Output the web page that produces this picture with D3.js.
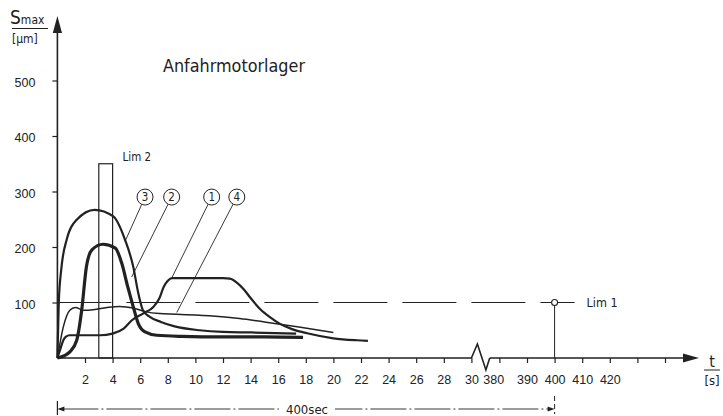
<!DOCTYPE html>
<html>
<head>
<meta charset="utf-8">
<script src="https://cdn.jsdelivr.net/npm/d3@7"></script>
<style>
  html, body { margin: 0; padding: 0; background: #fff; }
  svg { display: block; font-family: "DejaVu Sans Condensed", "DejaVu Sans", sans-serif; font-stretch: condensed; }
  .axis text { font-size: 12.5px; fill: #222; }
</style>
</head>
<body>
<div id="chart"></div>
<script>
// curves (t in s, Smax in µm)
const curve1 = [[0,0],[0.2,15],[0.43,32],[0.6,38],[0.9,41],[2,41],[3.1,41],[4,44],[4.8,53],[5.4,68],[6.2,80],[6.95,92],[7.4,108],[7.7,128],[8.0,139],[8.3,144],[10,144],[12,144],[12.5,143],[13,136],[13.5,124],[14,108],[14.7,88],[15.5,72],[16.1,62],[17,52],[18.1,44.5],[20,35.5],[21.7,32],[22.5,31]];
const curve2 = [[0,0],[0.5,4],[0.9,11],[1.4,32],[1.76,86],[2.1,164],[2.5,195],[3.3,205],[4.2,198],[4.66,171],[5.1,128],[5.5,92],[5.86,62],[6.35,47],[7.2,41],[9,39],[12,38],[15,38],[17.8,37]];
const curve3 = [[0,0],[0.1,100],[0.3,164],[0.67,213],[1.4,249],[2.7,267],[4.05,255],[4.9,213],[5.5,164],[5.86,117],[6.2,86],[6.7,74],[7.5,65],[8.5,57],[10.3,50],[12,47],[14,46],[17.3,44]];
const curve4 = [[0,0],[0.43,56],[0.9,86],[1.3,91],[1.9,86],[2.6,87],[3.6,91],[4.5,93],[5.5,90],[6.3,84],[7.4,80],[8.6,79],[11,76],[13.2,71],[15,65],[17.5,56],[20,46]];

// curve labels: number, circle position, where the leader line ends
const labelNames = ["3", "2", "1", "4"];
const labelPos = [[6.35,290],[8.28,290],[11.18,290],[13.0,290]];
const leaderEnd = [[4.9,210],[5.38,146],[8.28,144],[8.65,82]];

// limits
const lim1 = { t: 400, value: 100 };
const lim2 = { t0: 3, t1: 4, value: 350 };

// ticks
const yTicks = [100, 200, 300, 400, 500];
const xTicks = [2,4,6,8,10,12,14,16,18,20,22,24,26,28,30,380,390,400,410,420,430,440];
const xTickLabels = ["2","4","6","8","10","12","14","16","18","20","22","24","26","28","30","380","390","400","410","420","",""];

const W = 723, H = 416;
const ink = "#222";

const svg = d3.select("#chart").append("svg")
    .attr("width", W).attr("height", H);

// broken time axis: 0..30 s, then 380..440 s
const x = d3.scaleLinear()
    .domain([0, 30, 380, 440])
    .range([57.4, 471.4, 499.4, 665]);
const y = d3.scaleLinear()
    .domain([0, 500])
    .range([358, 80.5]);

const x0 = x(0), y0 = y(0);

// Lim 2 rectangle
svg.append("rect")
    .attr("x", x(lim2.t0))
    .attr("y", y(lim2.value))
    .attr("width", x(lim2.t1) - x(lim2.t0))
    .attr("height", y0 - y(lim2.value))
    .attr("fill", "none").attr("stroke", ink).attr("stroke-width", 1.2);
svg.append("text")
    .attr("x", x(lim2.t1) + 10).attr("y", y(lim2.value) - 3)
    .attr("font-size", 11.5).attr("fill", ink)
    .text("Lim 2");

// Lim 1 dashed line
svg.append("line")
    .attr("x1", x0).attr("x2", x(lim1.t) + 20)
    .attr("y1", y(lim1.value)).attr("y2", y(lim1.value))
    .attr("stroke", ink).attr("stroke-width", 1)
    .attr("stroke-dasharray", "54,15");
svg.append("line")
    .attr("x1", x(lim1.t)).attr("x2", x(lim1.t))
    .attr("y1", y(lim1.value)).attr("y2", y0)
    .attr("stroke", ink).attr("stroke-width", 1);
svg.append("line")
    .attr("x1", x(lim1.t)).attr("x2", x(lim1.t))
    .attr("y1", y0 + 38).attr("y2", y0 + 56)
    .attr("stroke", ink).attr("stroke-width", 1)
    .attr("stroke-dasharray", "5,3");
svg.append("circle")
    .attr("cx", x(lim1.t)).attr("cy", y(lim1.value)).attr("r", 3)
    .attr("fill", "#fff").attr("stroke", ink).attr("stroke-width", 1.1);
svg.append("text")
    .attr("x", x(lim1.t) + 32).attr("y", y(lim1.value) + 4.5)
    .attr("font-size", 12.5).attr("fill", ink)
    .text("Lim 1");

// curves
const line = d3.line()
    .x(function (d) { return x(d[0]); })
    .y(function (d) { return y(d[1]); })
    .curve(d3.curveMonotoneX);

const curves = [
    { data: curve4, width: 1.5 },
    { data: curve1, width: 2.2 },
    { data: curve3, width: 2.2 },
    { data: curve2, width: 3.2 }
];
curves.forEach(function (c) {
    svg.append("path")
        .datum(c.data)
        .attr("fill", "none")
        .attr("stroke", ink)
        .attr("stroke-width", c.width)
        .attr("stroke-linejoin", "round")
        .attr("d", line);
});

// circled numbers with leader lines
const r = 8;
labelNames.forEach(function (name, i) {
    const cx = x(labelPos[i][0]), cy = y(labelPos[i][1]);
    const ex = x(leaderEnd[i][0]), ey = y(leaderEnd[i][1]);
    const len = Math.hypot(ex - cx, ey - cy);
    svg.append("line")
        .attr("x1", cx + (ex - cx) / len * r).attr("y1", cy + (ey - cy) / len * r)
        .attr("x2", ex).attr("y2", ey)
        .attr("stroke", ink).attr("stroke-width", 0.9);
    svg.append("circle")
        .attr("cx", cx).attr("cy", cy).attr("r", r)
        .attr("fill", "#fff").attr("stroke", ink).attr("stroke-width", 1);
    svg.append("text")
        .attr("x", cx).attr("y", cy + 4)
        .attr("text-anchor", "middle")
        .attr("font-size", 11.5).attr("fill", ink)
        .text(name);
});

// y axis
const axisY = svg.append("g")
    .attr("class", "axis")
    .attr("transform", "translate(" + x0 + ",0)")
    .call(d3.axisLeft(y).tickValues(yTicks).tickSize(5).tickPadding(17).tickSizeOuter(0));
axisY.select(".domain").remove();
axisY.selectAll("line").attr("stroke", ink).attr("stroke-width", 1.2);
axisY.selectAll("text").attr("dy", "0.45em");

svg.append("line")
    .attr("x1", x0).attr("x2", x0)
    .attr("y1", y0).attr("y2", 31)
    .attr("stroke", ink).attr("stroke-width", 1.6);
svg.append("path")
    .attr("d", "M" + x0 + ",16 L" + (x0 - 4.6) + ",33 L" + (x0 + 4.6) + ",33 Z")
    .attr("fill", ink);

// x axis
const axisX = svg.append("g")
    .attr("class", "axis")
    .attr("transform", "translate(0," + y0 + ")")
    .call(d3.axisBottom(x).tickValues(xTicks).tickSize(5).tickPadding(12).tickSizeOuter(0)
        .tickFormat(function (d, i) { return xTickLabels[i]; }));
axisX.select(".domain").remove();
axisX.selectAll("line").attr("stroke", ink).attr("stroke-width", 1.2);
axisX.selectAll(".tick").filter(function (d) { return d === 380; })
    .select("text").attr("dx", "-0.5em");

// axis line with the break between 30 and 380
const xb = x(30);
svg.append("path")
    .attr("d", "M" + x0 + "," + y0 + " L" + xb + "," + y0 +
        " L" + (xb + 6) + "," + (y0 - 14) +
        " L" + (xb + 14.5) + "," + (y0 + 12) +
        " L" + (xb + 18) + "," + (y0 + 1) +
        " L" + (xb + 19) + "," + y0 +
        " L" + 684 + "," + y0)
    .attr("fill", "none").attr("stroke", ink).attr("stroke-width", 1.6);
svg.append("path")
    .attr("d", "M699," + y0 + " L683," + (y0 - 4.5) + " L683," + (y0 + 4.5) + " Z")
    .attr("fill", ink);

// axis titles
const yTitle = svg.append("text").attr("x", 10).attr("y", 24).attr("fill", ink);
yTitle.append("tspan").attr("font-size", 19).text("S");
yTitle.append("tspan").attr("font-size", 12).text("max");
svg.append("line")
    .attr("x1", 12).attr("x2", 48).attr("y1", 28.5).attr("y2", 28.5)
    .attr("stroke", ink).attr("stroke-width", 1);
svg.append("text")
    .attr("x", 12).attr("y", 43)
    .attr("font-size", 12).attr("fill", ink)
    .text("[µm]");

svg.append("text")
    .attr("x", 712).attr("y", 367)
    .attr("text-anchor", "middle")
    .attr("font-size", 16).attr("fill", ink)
    .text("t");
svg.append("line")
    .attr("x1", 704).attr("x2", 720).attr("y1", 370).attr("y2", 370)
    .attr("stroke", ink).attr("stroke-width", 1);
svg.append("text")
    .attr("x", 712).attr("y", 385)
    .attr("text-anchor", "middle")
    .attr("font-size", 13).attr("fill", ink)
    .text("[s]");

// title
svg.append("text")
    .attr("x", 163).attr("y", 72)
    .attr("font-size", 17).attr("fill", ink)
    .attr("textLength", 142).attr("lengthAdjust", "spacingAndGlyphs")
    .text("Anfahrmotorlager");

// 400 sec dimension line
const dimY = 409;
svg.append("line")
    .attr("x1", x0 + 5).attr("x2", x(lim1.t) - 5)
    .attr("y1", dimY).attr("y2", dimY)
    .attr("stroke", ink).attr("stroke-width", 0.9)
    .attr("stroke-dasharray", "36,3,2,3");
svg.append("line")
    .attr("x1", x0).attr("x2", x0).attr("y1", dimY - 8).attr("y2", dimY + 6)
    .attr("stroke", ink).attr("stroke-width", 1.2);
svg.append("path")
    .attr("d", "M" + x0 + "," + dimY + " L" + (x0 + 7) + "," + (dimY - 2.5) + " L" + (x0 + 7) + "," + (dimY + 2.5) + " Z")
    .attr("fill", ink);
svg.append("path")
    .attr("d", "M" + x(lim1.t) + "," + dimY + " L" + (x(lim1.t) - 7) + "," + (dimY - 2.5) + " L" + (x(lim1.t) - 7) + "," + (dimY + 2.5) + " Z")
    .attr("fill", ink);
const midX = (x0 + x(lim1.t)) / 2 + 1;
svg.append("rect")
    .attr("x", midX - 28).attr("y", dimY - 8).attr("width", 56).attr("height", 14)
    .attr("fill", "#fff");
svg.append("text")
    .attr("x", midX).attr("y", dimY + 4.5)
    .attr("text-anchor", "middle")
    .attr("font-size", 13).attr("fill", ink)
    .text("400sec");
</script>
</body>
</html>
